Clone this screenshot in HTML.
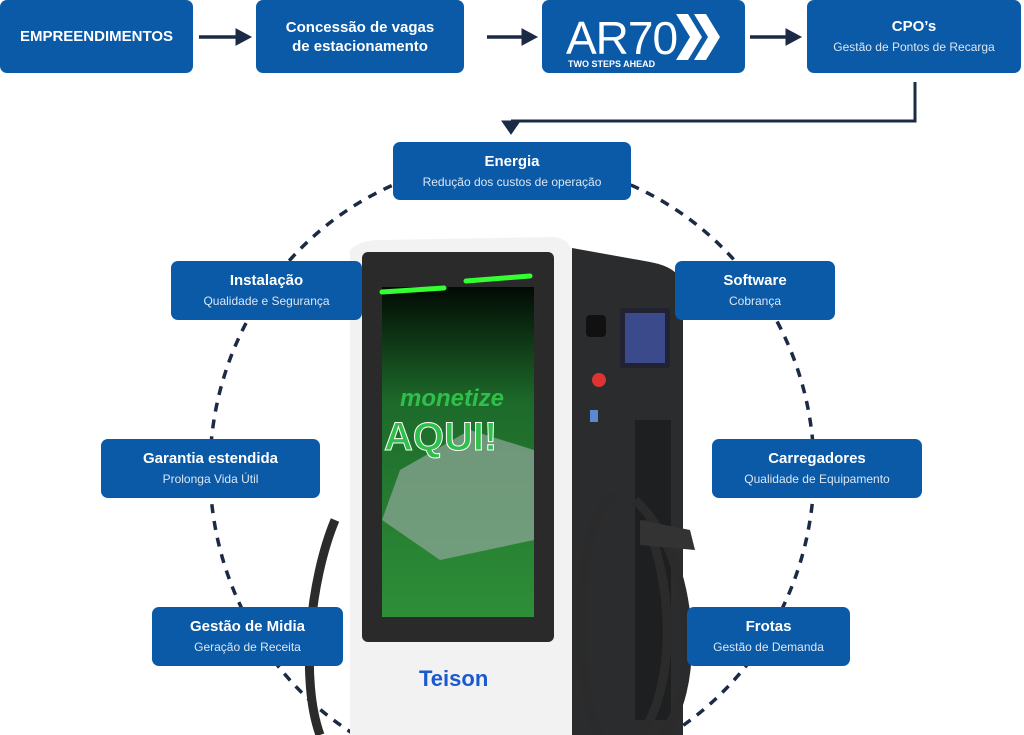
<!DOCTYPE html>
<html><head><meta charset="utf-8"><style>
html,body{margin:0;width:1024px;height:735px;overflow:hidden}
body{background:#fff;position:relative;font-family:"Liberation Sans",sans-serif}
.b{position:absolute;background:#0a5aa8;border-radius:7px;color:#fff;text-align:center;display:flex;flex-direction:column;justify-content:center;align-items:center}
.b b{font-size:15px;font-weight:bold;line-height:19px}
.b s{text-decoration:none;font-size:12px;color:#dce6f2;line-height:17px;margin-top:3px}
svg{position:absolute;left:0;top:0;display:block}
</style></head><body>
<svg width="1024" height="735">
<defs><linearGradient id="g" x1="0" y1="0" x2="0" y2="1"><stop offset="0" stop-color="#020a04"/><stop offset="0.35" stop-color="#1d6a2a"/><stop offset="1" stop-color="#2e8f38"/></linearGradient></defs>
<ellipse cx="512" cy="470" rx="302" ry="310" fill="none" stroke="#1b2a45" stroke-width="3.5" stroke-dasharray="9 8"/>
<g fill="#1b2a45" stroke="#1b2a45">
<line x1="199" y1="37" x2="238" y2="37" stroke-width="3.5"/><polygon points="236,29 251,37 236,45"/>
<line x1="487" y1="37" x2="524" y2="37" stroke-width="3.5"/><polygon points="522,29 537,37 522,45"/>
<line x1="750" y1="37" x2="788" y2="37" stroke-width="3.5"/><polygon points="786,29 801,37 786,45"/>
<polyline points="915,82 915,121 511,121" fill="none" stroke-width="3"/><polygon points="502,121 520,121 511,134"/>
</g>
<!-- charger -->
<path d="M572,248 L650,262 Q683,268 683,290 L683,735 L572,735 Z" fill="#2b2c2e"/>
<rect x="620" y="308" width="50" height="60" rx="3" fill="#223"/>
<rect x="625" y="313" width="40" height="50" fill="#3a4a8a"/>
<rect x="586" y="315" width="20" height="22" rx="4" fill="#111"/>
<circle cx="599" cy="380" r="7" fill="#d33"/>
<rect x="590" y="410" width="8" height="12" fill="#5a8ad0"/>
<rect x="635" y="420" width="36" height="300" fill="#1e1f20"/>
<path d="M350,250 Q360,240 380,240 L555,237 Q572,240 572,255 L572,735 L350,735 Z" fill="#f2f2f2"/>
<rect x="362" y="252" width="192" height="390" rx="6" fill="#2a2a2a"/>
<rect x="382" y="287" width="152" height="330" fill="url(#g)"/>
<polygon points="400,470 470,430 534,450 534,540 440,560 382,520" fill="#8aa594" opacity="0.75"/>
<line x1="382" y1="292" x2="444" y2="288" stroke="#3f3" stroke-width="5" stroke-linecap="round"/>
<line x1="466" y1="281" x2="530" y2="276" stroke="#3f3" stroke-width="5" stroke-linecap="round"/>
<text x="400" y="406" font-family="Liberation Sans" font-weight="bold" font-style="italic" font-size="24" fill="#2fbf4a">monetize</text>
<text x="384" y="450" font-family="Liberation Sans" font-weight="bold" font-size="40" fill="#2fbf4a" stroke="#fff" stroke-width="1">AQUI!</text>
<text x="419" y="686" font-family="Liberation Sans" font-weight="bold" font-size="22" fill="#1a5ad0">Teison</text>
<path d="M615,495 C570,520 575,700 600,735 M635,500 C700,560 700,700 660,735 M645,520 C680,600 670,700 640,735 M335,520 C310,580 300,680 320,735" fill="none" stroke="#2b2b2b" stroke-width="9"/>
<path d="M640,520 L690,530 L695,550 L640,545 Z" fill="#333"/>
</svg>
<div class="b" style="left:0;top:0;width:193px;height:73px"><b>EMPREENDIMENTOS</b></div>
<div class="b" style="left:256px;top:0;width:208px;height:73px"><b>Concessão de vagas<br>de estacionamento</b></div>
<div class="b" style="left:542px;top:0;width:203px;height:73px">
<svg width="203" height="73" style="position:absolute;left:0;top:0">
<text x="24" y="54" font-family="Liberation Sans" font-size="46" fill="#fff" letter-spacing="-1">AR70</text>
<text x="26" y="67" font-family="Liberation Sans" font-weight="bold" font-size="9" fill="#fff">TWO STEPS AHEAD</text>
<polygon points="134,14 146,14 160,37 146,60 134,60 148,37" fill="#fff"/>
<polygon points="152,14 164,14 178,37 164,60 152,60 166,37" fill="#fff"/>
</svg></div>
<div class="b" style="left:807px;top:0;width:214px;height:73px"><b>CPO’s</b><s>Gestão de Pontos de Recarga</s></div>
<div class="b" style="left:393px;top:142px;width:238px;height:58px"><b>Energia</b><s>Redução dos custos de operação</s></div>
<div class="b" style="left:171px;top:261px;width:191px;height:59px"><b>Instalação</b><s>Qualidade e Segurança</s></div>
<div class="b" style="left:675px;top:261px;width:160px;height:59px"><b>Software</b><s>Cobrança</s></div>
<div class="b" style="left:101px;top:439px;width:219px;height:59px"><b>Garantia estendida</b><s>Prolonga Vida Útil</s></div>
<div class="b" style="left:712px;top:439px;width:210px;height:59px"><b>Carregadores</b><s>Qualidade de Equipamento</s></div>
<div class="b" style="left:152px;top:607px;width:191px;height:59px"><b>Gestão de Midia</b><s>Geração de Receita</s></div>
<div class="b" style="left:687px;top:607px;width:163px;height:59px"><b>Frotas</b><s>Gestão de Demanda</s></div>
</body></html>
